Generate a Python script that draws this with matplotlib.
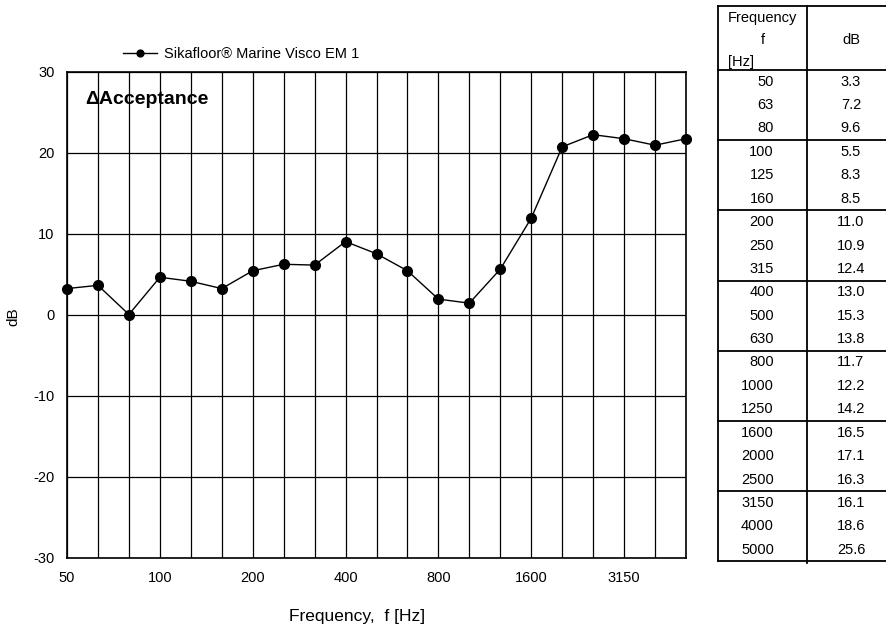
import numpy as np
import matplotlib
matplotlib.use("Agg")
import matplotlib.pyplot as plt

plt.rcParams['font.family'] = ['Liberation Sans', 'DejaVu Sans']
plt.rcParams['axes.unicode_minus'] = False

# frequencies (third-octave bands) and the plotted curve
freqs = [50, 63, 80, 100, 125, 160, 200, 250, 315, 400, 500, 630,
         800, 1000, 1250, 1600, 2000, 2500, 3150, 4000, 5000]
delta_db = [3.2, 3.6, 0.0, 4.6, 4.1, 3.2, 5.4, 6.2, 6.1, 9.0, 7.5, 5.4,
            1.9, 1.4, 5.6, 11.9, 20.7, 22.2, 21.7, 20.9, 21.7]
# values listed in the table on the right
table_db = ["3.3", "7.2", "9.6", "5.5", "8.3", "8.5", "11.0", "10.9", "12.4",
            "13.0", "15.3", "13.8", "11.7", "12.2", "14.2", "16.5", "17.1",
            "16.3", "16.1", "18.6", "25.6"]
xtick_labels = ["50", "100", "200", "400", "800", "1600", "3150"]
series_name = "Sikafloor\u00ae Marine Visco EM 1"

W, H = 886, 628
fig = plt.figure(figsize=(W / 100, H / 100), dpi=100)

# main chart
left, right, top, bottom = 67, 686, 71.5, 557.5
pw, ph = right - left, bottom - top
ax = fig.add_axes([left / W, 1 - bottom / H, pw / W, ph / H])
x = np.arange(len(freqs))
ax.plot(x, delta_db, color='black', lw=1.0, marker='o', ms=7, label=series_name,
        clip_on=False, zorder=5)
ax.set_xlim(0, len(freqs) - 1)
ax.set_ylim(-30, 30)
ax.set_yticks(np.arange(-30, 31, 10))
ax.set_xticks(x)
ax.set_xticklabels([str(f) if str(f) in xtick_labels else "" for f in freqs])
ax.grid(True, color='black', lw=0.9)
ax.tick_params(length=0, labelsize=10.5)
ax.tick_params(axis='x', pad=10)
ax.tick_params(axis='y', pad=9)
for s in ax.spines.values():
    s.set_linewidth(1.2)
ax.set_ylabel("dB", fontsize=11)
ax.yaxis.set_label_coords((20 - left) / pw, (bottom - 317) / ph)
ax.set_xlabel("Frequency,  f [Hz]", fontsize=12.5, va='center')
ax.xaxis.set_label_coords((357 - left) / pw, (bottom - 616) / ph)
ax.text((85 - left) / pw, (bottom - 99) / ph, "\u0394Acceptance", transform=ax.transAxes,
        fontsize=14, fontweight='bold', va='center', ha='left')
leg = ax.legend(loc='center left', bbox_to_anchor=((120 - left) / pw, (bottom - 54) / ph),
                frameon=False, fontsize=10.5, handlelength=2.35, borderpad=0.2,
                handletextpad=0.45, markerscale=0.7, borderaxespad=0)

# table on the right, drawn in pixel coordinates
tx = fig.add_axes([0, 0, 1, 1])
tx.set_xlim(0, W)
tx.set_ylim(H, 0)
tx.axis('off')
t_left, t_mid, t_right = 718, 807, 890
t_top, head_bot = 6, 70
row_h = 23.4
t_bot = head_bot + row_h * len(freqs)
lw = 1.3
tx.plot([t_left, t_right], [t_top, t_top], color='black', lw=lw)
tx.plot([t_left, t_right], [head_bot, head_bot], color='black', lw=lw)
tx.plot([t_left, t_right], [t_bot, t_bot], color='black', lw=lw)
tx.plot([t_left, t_left], [t_top, t_bot], color='black', lw=lw)
tx.plot([t_mid, t_mid], [t_top, t_bot + 2], color='black', lw=lw)
for g in range(3, len(freqs), 3):
    yy = head_bot + g * row_h
    tx.plot([t_left, t_right], [yy, yy], color='black', lw=lw)
fs = 10.5
tx.text(728, 18, "Frequency", fontsize=fs, va='center', ha='left')
tx.text(763, 40, "f", fontsize=fs, va='center', ha='center')
tx.text(728, 62, "[Hz]", fontsize=fs, va='center', ha='left')
tx.text(851, 40, "dB", fontsize=fs, va='center', ha='center')
for i, (f, v) in enumerate(zip(freqs, table_db)):
    yy = head_bot + (i + 0.5) * row_h
    tx.text(774, yy, str(f), fontsize=fs, va='center', ha='right')
    tx.text(851, yy, v, fontsize=fs, va='center', ha='center')

fig.savefig("out.png", dpi=100)
